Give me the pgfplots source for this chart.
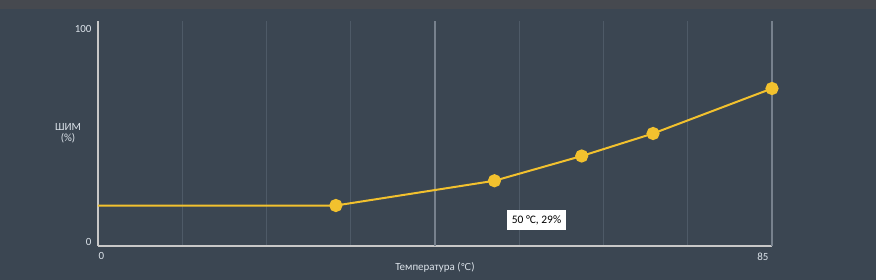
\documentclass[border=0pt]{standalone}
\usepackage{pgfplots}
\pgfplotsset{compat=1.18}
\usepackage{fontspec}
\setmainfont{Carlito}
\newfontfamily\dejavu{DejaVu Sans}
\definecolor{bg}{HTML}{3B4652}
\definecolor{topbar}{HTML}{46494F}
\definecolor{txt}{HTML}{DCE3EA}
\definecolor{axl}{HTML}{C8C8C8}
\definecolor{gridminor}{HTML}{4E5A67}
\definecolor{gridmajor}{HTML}{77818D}
\definecolor{ylw}{HTML}{F2C12E}
\begin{document}
\begin{tikzpicture}
\fill[bg] (-98bp,-34bp) rectangle (778bp,246bp);
\fill[topbar] (-98bp,237bp) rectangle (778bp,246bp);
\begin{axis}[
  at={(0,0)}, anchor=south west,
  scale only axis, width=674bp, height=225bp,
  xmin=0, xmax=85, ymin=0, ymax=100,
  clip=false,
  axis x line=bottom, axis y line=left,
  axis line style={draw=axl, line width=2bp, -},
  /pgf/number format/assume math mode=true,
  tick label style={font=\fontsize{11}{12}\selectfont, text=txt},
  major tick length=0pt, minor tick length=0pt,
  xtick={0},
  xticklabel style={anchor=north west, xshift=-3bp, yshift=-3bp},
  minor xtick={10.625,21.25,31.875,53.125,63.75,74.375},
  xminorgrids,
  minor grid style={draw=gridminor, line width=1bp},
  extra x ticks={42.5,85},
  extra x tick labels={,85},
  extra x tick style={grid=major, major grid style={draw=gridmajor, line width=1.5bp}, xticklabel style={anchor=north east, xshift=3bp}},
  ytick={0},
  yticklabel style={anchor=south east, xshift=-3bp, yshift=-3bp},
  extra y ticks={100},
  extra y tick style={grid=none, yticklabel style={anchor=north east, yshift=2.5bp}},
  every axis x label/.style={at={(axis description cs:0.5,0)}, anchor=center, yshift=-21bp, font=\fontsize{11}{12}\selectfont, text=txt},
  every axis y label/.style={at={(axis description cs:0,0.5)}, anchor=center, xshift=-30bp, yshift=0bp, align=center, font=\fontsize{11}{11}\selectfont, text=txt},
  xlabel={Температура ({\dejavu\fontsize{9.5}{11}\selectfont ℃})},
  ylabel={ШИМ\\(\%)},
]
\addplot[ylw, line width=2bp, mark=*, mark size=5.6bp, mark indices={2,3,4,5,6}, mark options={fill=ylw, draw=none}]
  coordinates {(0,18) (30,18) (50,29) (61,40) (70,50) (85,70)};
\node[fill=white, text=black, inner xsep=5bp, inner ysep=5bp, font=\fontsize{11.5}{12}\selectfont] at (axis cs:55.3,11.6) {50 °C, 29\%};
\end{axis}
\end{tikzpicture}
\end{document}
